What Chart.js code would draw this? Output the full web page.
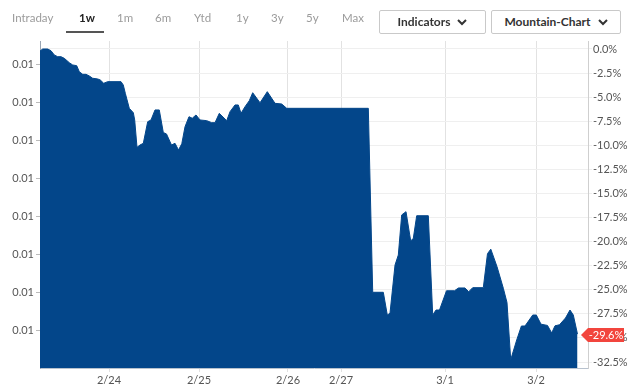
<!DOCTYPE html>
<html>
<head>
<meta charset="utf-8">
<script src="https://cdn.jsdelivr.net/npm/chart.js@4.4.1/dist/chart.umd.min.js"></script>
<style>
  html, body { margin: 0; padding: 0; background: #fff; }
  body { width: 632px; height: 390px; position: relative; overflow: hidden; font-family: Lato, "Open Sans", sans-serif; }
  #chart { position: absolute; left: 0; top: 0; }
  .tab { position: absolute; top: 11px; font-size: 11.5px; color: #9b9b9b; }
  .tab.on { color: #222; font-weight: bold; }
  .underline { position: absolute; left: 66px; top: 31px; width: 38px; height: 2px; background: #555; }
  .btn { position: absolute; top: 10px; height: 24px; box-sizing: border-box; border: 1px solid #c9c9c9; border-radius: 2px;
         font-size: 12px; font-weight: bold; color: #333; line-height: 22px; text-align: center; background: #fff; }
  .btn svg { margin-left: 7px; vertical-align: 0px; }
</style>
</head>
<body>
<canvas id="chart" width="632" height="390"></canvas>

<div class="tab" style="left:12px">Intraday</div>
<div class="tab on" style="left:79px">1w</div>
<div class="tab" style="left:117px">1m</div>
<div class="tab" style="left:155px">6m</div>
<div class="tab" style="left:194px">Ytd</div>
<div class="tab" style="left:236px">1y</div>
<div class="tab" style="left:271px">3y</div>
<div class="tab" style="left:306px">5y</div>
<div class="tab" style="left:342px">Max</div>
<div class="underline"></div>
<div class="btn" style="left:379px; width:107px">Indicators<svg width="10" height="7"><polyline points="1,1 5,5 9,1" fill="none" stroke="#333" stroke-width="2"/></svg></div>
<div class="btn" style="left:491px; width:130px">Mountain-Chart<svg width="10" height="7"><polyline points="1,1 5,5 9,1" fill="none" stroke="#333" stroke-width="2"/></svg></div>

<script>
// time in hours from the start of the week window
const hours = [0, 0.72, 2.05, 2.93, 3.81, 4.72, 5.6, 6.48, 7.81, 8.72, 9.79, 10.48, 11.39, 12.27, 13.15, 14.05,
  15.39, 16.08, 16.99, 18.05, 21.6, 22.21, 22.75, 23.81, 24.88, 25.25, 25.87, 26.67, 27.55, 28.72, 29.6, 30.67,
  31.81, 32.88, 33.73, 35.07, 36.0, 36.93, 37.81, 38.67, 39.73, 40.61, 41.6, 42.67, 44.45, 45.79, 46.67, 47.81,
  49.79, 50.67, 52.0, 52.88, 53.6, 54.67, 55.81, 56.72, 58.67, 60.61, 62.67, 64.45, 65.79, 87.55, 88.72, 91.55,
  92.61, 93.33, 94.67, 95.55, 96.45, 97.6, 98.85, 99.55, 100.45, 103.55, 104.72, 105.6, 106.53, 108.4, 110.53,
  111.6, 113.33, 114.32, 115.39, 118.21, 119.33, 120.21, 121.87, 123.55, 124.53, 125.52, 127.12, 128.37, 129.33,
  131.39, 132.35, 133.6, 135.33, 136.45, 137.33, 138.53, 140.13, 141.33, 142.21, 143.33];

// change in percent
const pctChange = [-0.21, 0.0, 0.0, -0.18, -0.62, -0.8, -0.8, -0.97, -1.42, -1.66, -1.73, -2.36, -2.63, -2.63, -2.8, -3.04,
  -3.11, -3.22, -3.56, -3.39, -3.39, -3.74, -4.6, -6.16, -6.61, -7.37, -10.21, -9.97, -9.79, -7.55, -7.37, -6.33,
  -6.33, -8.67, -8.82, -9.97, -9.79, -10.49, -9.84, -8.07, -7.03, -7.19, -6.85, -7.37, -7.44, -7.65, -7.65, -6.68,
  -7.44, -6.51, -5.81, -5.81, -6.68, -5.99, -5.37, -4.54, -5.58, -4.43, -5.64, -5.71, -6.16, -6.16, -25.26, -25.26,
  -27.62, -27.44, -22.43, -21.39, -17.23, -16.89, -19.93, -19.65, -17.31, -17.31, -27.62, -27.1, -27.1, -25.1, -25.1,
  -24.81, -24.81, -25.2, -24.78, -24.78, -21.25, -20.78, -22.6, -24.84, -26.32, -32.26, -30.21, -28.76, -28.76,
  -27.62, -27.62, -28.57, -28.7, -29.48, -28.74, -28.63, -27.93, -27.1, -27.62, -29.6];

const dateTickPos = [18.4, 42.4, 66.13, 80.27, 108.0, 132.27];
const dateTickLabels = ['2/24', '2/25', '2/26', '2/27', '3/1', '3/2'];

const pctTicks = [0, -2.5, -5, -7.5, -10, -12.5, -15, -17.5, -20, -22.5, -25, -27.5, -30, -32.5];
const priceTicks = [0.0125, 0.012, 0.0115, 0.011, 0.0105, 0.01, 0.0095, 0.009];
const basePrice = 0.01271;

const pctMin = -33.12;
const pctMax = 0.83;

const BLUE = '#03468a';
const labelFont = { family: 'Lato, "Open Sans", sans-serif', size: 11 };

const lastBadge = {
  id: 'lastBadge',
  afterDraw(chart) {
    const c = chart.ctx;
    const area = chart.chartArea;
    const v = pctChange[pctChange.length - 1];
    const y = Math.round(chart.scales.y.getPixelForValue(v)) + 1;
    c.save();
    c.fillStyle = '#f2453d';
    c.beginPath();
    c.moveTo(area.right - 7, y);
    c.lineTo(area.right, y - 7);
    c.lineTo(624, y - 7);
    c.lineTo(624, y + 7);
    c.lineTo(area.right, y + 7);
    c.closePath();
    c.fill();
    c.fillStyle = '#fff';
    c.font = '11px Lato, "Open Sans", sans-serif';
    c.textAlign = 'center';
    c.textBaseline = 'middle';
    c.fillText(v.toFixed(1) + '%', 606, y + 0.5);
    c.restore();
  }
};

const ctx = document.getElementById('chart').getContext('2d');
new Chart(ctx, {
  type: 'line',
  data: {
    datasets: [{
      data: hours.map((h, i) => ({ x: h, y: pctChange[i] })),
      xAxisID: 'x',
      yAxisID: 'y',
      fill: 'start',
      backgroundColor: BLUE,
      borderColor: BLUE,
      borderWidth: 1,
      pointRadius: 0,
      tension: 0
    }]
  },
  options: {
    responsive: false,
    animation: false,
    devicePixelRatio: 1,
    layout: { padding: { top: 41 } },
    plugins: { legend: { display: false }, tooltip: { enabled: false } },
    scales: {
      x: {
        type: 'linear',
        min: 0,
        max: 146.13,
        afterBuildTicks: s => { s.ticks = dateTickPos.map(v => ({ value: v })); },
        afterFit: s => { s.height = 22; },
        ticks: { callback: (v, i) => dateTickLabels[i], color: '#555', font: labelFont, maxRotation: 0, autoSkip: false, padding: 2 },
        grid: { color: '#e2e2e2', tickLength: 4 },
        border: { color: '#b8c2ce' }
      },
      y: {
        position: 'right',
        min: pctMin,
        max: pctMax,
        afterBuildTicks: s => { s.ticks = pctTicks.map(v => ({ value: v })); },
        afterFit: s => { s.width = 44; },
        ticks: { callback: v => v.toFixed(1) + '%', color: '#555', font: labelFont, padding: 1 },
        grid: { color: '#efefef', tickLength: 4 },
        border: { color: '#cfcfcf' }
      },
      price: {
        position: 'left',
        min: basePrice * (1 + pctMin / 100),
        max: basePrice * (1 + pctMax / 100),
        afterBuildTicks: s => { s.ticks = priceTicks.map(v => ({ value: v })); },
        afterFit: s => { s.width = 40; },
        ticks: { callback: v => v.toFixed(2), color: '#555', font: labelFont, padding: 2 },
        grid: { drawOnChartArea: false, color: '#bbb', tickLength: 4 },
        border: { color: '#9aa6b4' }
      }
    }
  },
  plugins: [lastBadge]
});
</script>
</body>
</html>
